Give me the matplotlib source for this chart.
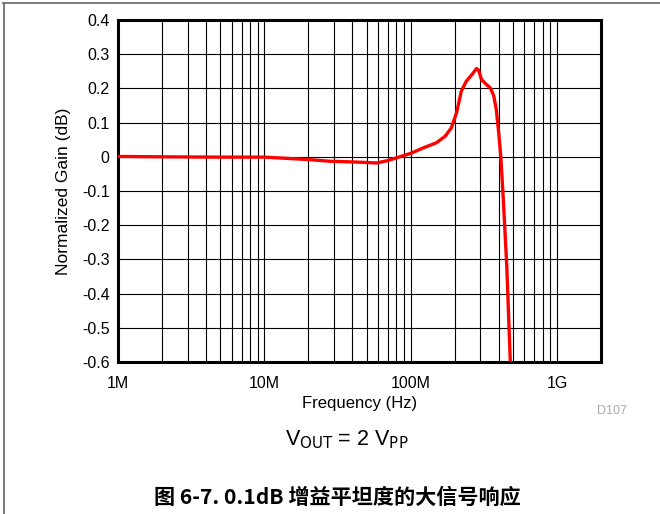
import numpy as np
import matplotlib
matplotlib.use("Agg")
import matplotlib.pyplot as plt
from matplotlib.ticker import FixedLocator, LogLocator, NullFormatter
from matplotlib.lines import Line2D

plt.rcParams['font.family'] = ['Liberation Sans', 'DejaVu Sans']

# large-signal 0.1dB flatness, Vout = 2 Vpp
freq_mhz = [1, 2, 5, 10, 20, 28, 40, 58.6, 70, 80, 100, 122, 150, 172, 190,
            206, 222, 240, 262, 282, 292, 305, 330, 350, 370, 385, 400, 413,
            430, 454, 480, 490]
gain_db = [0.001, 0.0, -0.001, -0.001, -0.008, -0.013, -0.015, -0.018,
           -0.011, -0.003, 0.01, 0.026, 0.041, 0.06, 0.085, 0.129, 0.192,
           0.221, 0.24, 0.258, 0.253, 0.226, 0.211, 0.202, 0.178, 0.138,
           0.07, 0.002, -0.125, -0.32, -0.6, -0.7]

xticks_hz = [1e6, 1e7, 1e8, 1e9]
xtick_labels = ['1M', '10M', '100M', '1G']
yticks = [-0.6, -0.5, -0.4, -0.3, -0.2, -0.1, 0, 0.1, 0.2, 0.3, 0.4]
ytick_labels = ['-0.6', '-0.5', '-0.4', '-0.3', '-0.2', '-0.1', '0',
                '0.1', '0.2', '0.3', '0.4']

fig = plt.figure(figsize=(6.6, 5.14), dpi=100)
ax = fig.add_axes([118/660, 1-362/514, 483/660, 342/514])

f = np.array(freq_mhz) * 1e6
ax.plot(f, gain_db, color='#ff0000', lw=2.4, solid_joinstyle='round', zorder=3)

ax.set_xscale('log')
ax.set_xlim(1e6, 2e9)
ax.set_ylim(-0.6, 0.4)
ax.xaxis.set_major_locator(FixedLocator(xticks_hz))
ax.set_xticklabels(xtick_labels)
ax.xaxis.set_minor_locator(LogLocator(base=10, subs=np.arange(2, 10)))
ax.xaxis.set_minor_formatter(NullFormatter())
ax.set_yticks(yticks)
ax.set_yticklabels(ytick_labels)

ax.grid(True, which='both', axis='x', color='black', lw=0.8)
ax.grid(True, which='major', axis='y', color='black', lw=0.8)
ax.tick_params(which='both', length=0, labelsize=11.5)
ax.tick_params(axis='x', pad=10)
ax.tick_params(axis='y', pad=6)
for s in ax.spines.values():
    s.set_linewidth(2.2)

ax.set_xlabel('Frequency (Hz)', fontsize=12, labelpad=4)
ax.set_ylabel('Normalized Gain (dB)', fontsize=12.5, labelpad=8)

fig.text(612/660, 1-411/514, 'D107', color='#aaaaaa', fontsize=9,
         ha='center', va='center')
fig.text(347/660, 1-440/514, r'V$_{\mathrm{OUT}}$ = 2 V$_{\mathrm{PP}}$',
         fontsize=15.5, ha='center', va='center')
fig.text(337/660, 1-497/514, '图 6-7. 0.1dB 增益平坦度的大信号响应',
         family=['Noto Sans CJK SC', 'DejaVu Sans'], fontweight='bold',
         fontsize=15.2, ha='center', va='center')

# page frame lines (top and left)
fig.add_artist(Line2D([3/660, 1], [1-2.5/514, 1-2.5/514], color='#666666', lw=1.2))
fig.add_artist(Line2D([3.5/660, 3.5/660], [0, 1-2.5/514], color='#666666', lw=1.2))

fig.savefig('out.png', dpi=100)
